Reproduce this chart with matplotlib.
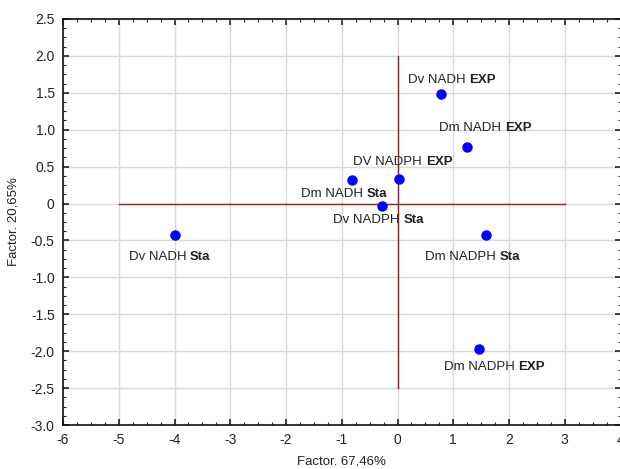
import matplotlib.pyplot as plt
from matplotlib.ticker import MultipleLocator, AutoMinorLocator, FuncFormatter

plt.rcParams['font.family'] = ['Liberation Sans', 'DejaVu Sans']

# factor scores
names = ['Dv NADH', 'Dm NADH', 'DV NADPH', 'Dm NADH', 'Dv NADPH', 'Dv NADH', 'Dm NADPH', 'Dm NADPH']
phase = ['EXP', 'EXP', 'EXP', 'Sta', 'Sta', 'Sta', 'Sta', 'EXP']
f1 = [0.78, 1.25, 0.03, -0.82, -0.27, -4.0, 1.58, 1.46]
f2 = [1.48, 0.77, 0.33, 0.32, -0.04, -0.42, -0.43, -1.97]

# where each label sits (left edge, vertical centre), data units
lab_x = [0.19, 0.75, -0.79, -1.73, -1.15, -4.82, 0.50, 0.83]
lab_y = [1.68, 1.02, 0.56, 0.125, -0.22, -0.72, -0.73, -2.22]

fig = plt.figure(figsize=(6.2, 4.69), dpi=100)
ax = fig.add_axes([63/620, 44/469, 557.5/620, 406/469])

ax.set_xlim(-6, 4)
ax.set_ylim(-3, 2.5)
ax.xaxis.set_major_locator(MultipleLocator(1))
ax.yaxis.set_major_locator(MultipleLocator(0.5))
ax.xaxis.set_minor_locator(AutoMinorLocator(4))
ax.yaxis.set_minor_locator(AutoMinorLocator(4))
ax.yaxis.set_major_formatter(FuncFormatter(lambda v, p: '0' if abs(v) < 1e-9 else f'{v:.1f}'))
ax.xaxis.set_major_formatter(FuncFormatter(lambda v, p: f'{v:.0f}'))
ax.tick_params(which='both', direction='in', top=True, right=True, labelsize=10, colors='#222222')
ax.tick_params(which='major', length=4, width=1.2, pad=6)
ax.tick_params(which='minor', length=2, width=0.8)
for s in ax.spines.values():
    s.set_linewidth(1.2)
    s.set_color('#111111')

ax.grid(True, color='#d9d9d9', linewidth=1)
ax.set_axisbelow(True)

ax.plot([-5, 3], [0, 0], color='#a01a28', linewidth=1)
ax.plot([0, 0], [-2.5, 2.0], color='#a01a28', linewidth=1)

ax.plot(f1, f2, 'o', color='#0000ff', markersize=6.5, zorder=3)

for i in range(len(names)):
    t = ax.text(lab_x[i], lab_y[i], names[i], ha='left', va='center', fontsize=9.5, color='#222222')
    ax.annotate(phase[i], xy=(1, 0.5), xycoords=t, xytext=(2.5, 0), textcoords='offset points',
                ha='left', va='center', fontsize=9.5, fontweight='bold', color='#222222')

ax.set_xlabel('Factor. 67,46%', fontsize=9.5, color='#222222', labelpad=6)
ax.set_ylabel('Factor. 20,65%', fontsize=9.5, color='#222222', labelpad=8)

fig.savefig('out.png', dpi=100)
